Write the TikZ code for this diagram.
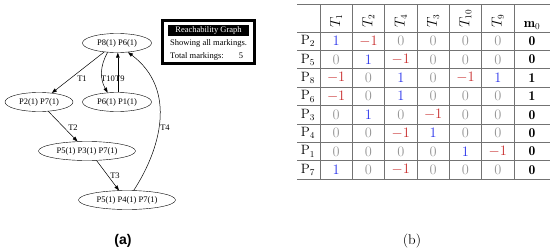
\documentclass[tikz,border=0pt]{standalone}
\usepackage{fontspec}
\newfontfamily\gvfont{Liberation Serif}
\newfontfamily\capfont{Liberation Sans}
\usetikzlibrary{arrows.meta,shapes.geometric}
\definecolor{cblue}{RGB}{40,50,235}
\definecolor{cred}{RGB}{200,45,45}
\definecolor{cgray}{RGB}{150,150,150}
\definecolor{cline}{RGB}{115,115,115}
\newcommand\cellnum[1]{\ifnum#1>0 \textcolor{cblue}{$1$}\else\ifnum#1<0 \textcolor{cred}{$-1$}\else\textcolor{cgray}{$0$}\fi\fi}
\begin{document}
\begin{tikzpicture}[x=1pt,y=-1pt,
  st/.style={draw, ellipse, inner sep=0pt, minimum height=19pt, font=\gvfont\fontsize{8.5}{10}\selectfont},
  lbl/.style={inner sep=0pt, font=\gvfont\fontsize{8.5}{10}\selectfont},
  arr/.style={draw, line width=0.5pt, -{Triangle[length=5pt,width=3.6pt]}},
  tab/.style={inner sep=0pt, font=\fontsize{13.5}{15}\selectfont},
  grid/.style={draw=cline, line width=0.7pt}
]
\useasboundingbox (0,0) rectangle (550,252);
% reachability graph
\node[st, minimum width=69pt] (m1) at (117,43) {P8(1) P6(1)};
\node[st, minimum width=68pt] (m2) at (39,102) {P2(1) P7(1)};
\node[st, minimum width=69pt] (m3) at (117,102) {P6(1) P1(1)};
\node[st, minimum width=97pt] (m4) at (87,151) {P5(1) P3(1) P7(1)};
\node[st, minimum width=97pt] (m5) at (127,200) {P5(1) P4(1) P7(1)};
\draw[arr] (m1.215) -- (m2.35);
\draw[arr] (m1.225) to[bend right=30] (m3.135);
\draw[arr] (m3.85) -- (m1.275);
\draw[arr] (m2.-45) -- (m4.135);
\draw[arr] (m4.-45) -- (m5.130);
\draw[arr] (m5.55) .. controls (160,150) and (178,90) .. (m1.-40);
\node[lbl] (t1) at (82,79) {T1};
\node[lbl, anchor=east] (t10) at (115,79) {T10};
\node[lbl, anchor=west] (t9) at (115,79) {T9};
\node[lbl] (t2) at (73,128) {T2};
\node[lbl] (t3) at (115,176) {T3};
\node[lbl] (t4) at (165,128) {T4};
% legend box
\draw[line width=3pt] (162.5,20.5) rectangle (254.5,63.5);
\fill (168,25) rectangle (249,36);
\node[lbl, text=white] (lt) at (208.5,30.5) {Reachability Graph};
\node[lbl, anchor=west] (ls) at (170,43.5) {Showing all markings.};
\node[lbl, anchor=west] (lm) at (170,56) {Total markings:};
\node[lbl] (ln) at (241,56) {5};
% incidence table
\foreach \yy in {4.5,32,50.4,68.8,87.1,105.5,123.9,142.3,160.6,179}
  \draw[grid] (297,\yy) -- (550,\yy);
\foreach \xx in {320,352.3,384.6,417,449.3,481.6,514}
  \draw[grid] (\xx,4.5) -- (\xx,179);
\foreach \tl [count=\c] in {1,2,4,3,10,9}
  \node[tab, rotate=90, anchor=west] (h\c) at ({320+32.33*(\c-0.5)},27.5) {$T_{\tl}$};
\node[tab, anchor=base] (hm) at (532,27.5) {$\mathbf{m}_0$};
\foreach \lab/\vals/\m [count=\r] in {2/{1,-1,0,0,0,0}/0, 5/{0,1,-1,0,0,0}/0, 8/{-1,0,1,0,-1,1}/1, 6/{-1,0,1,0,0,0}/1, 3/{0,1,0,-1,0,0}/0, 4/{0,0,-1,1,0,0}/0, 1/{0,0,0,0,1,-1}/0, 7/{1,0,-1,0,0,0}/0} {
  \node[tab] (p\r) at (308,{32+18.375*(\r-0.5)}) {P$_{\lab}$};
  \foreach \v [count=\c] in \vals {
    \node[tab] (c\r-\c) at ({320+32.33*(\c-0.5)},{32+18.375*(\r-0.5)}) {\cellnum{\v}};
  }
  \node[tab] (z\r) at (532,{32+18.375*(\r-0.5)}) {$\mathbf{\m}$};
}
% captions
\node[inner sep=0pt, font=\capfont\bfseries\fontsize{14}{16}\selectfont] (ca) at (123,241) {(a)};
\node[inner sep=0pt, font=\fontsize{14}{16}\selectfont] (cb) at (412,241) {(b)};
\end{tikzpicture}
\end{document}
